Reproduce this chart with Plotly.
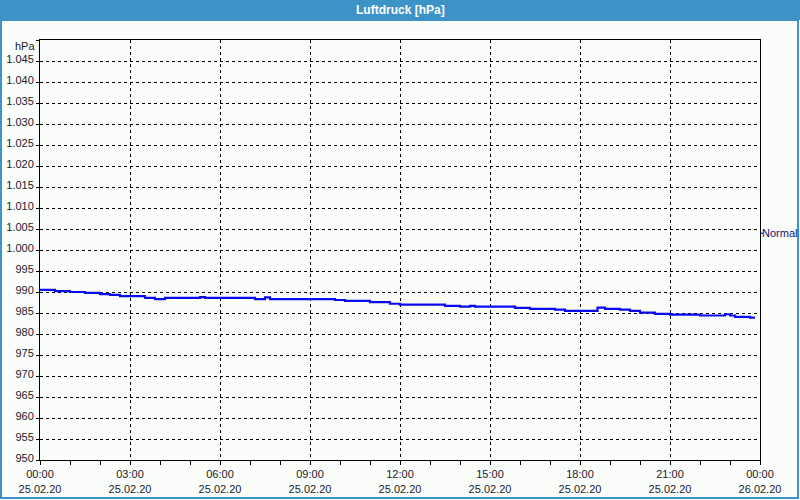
import plotly.graph_objects as go

# ---- data ----
times = ["2020-02-25 00:00", "2020-02-25 00:30", "2020-02-25 01:00", "2020-02-25 01:30",
         "2020-02-25 02:00", "2020-02-25 02:20", "2020-02-25 02:40", "2020-02-25 03:30",
         "2020-02-25 03:50", "2020-02-25 04:10", "2020-02-25 05:20", "2020-02-25 05:30",
         "2020-02-25 07:10", "2020-02-25 07:30", "2020-02-25 07:40", "2020-02-25 09:50",
         "2020-02-25 10:10", "2020-02-25 11:00", "2020-02-25 11:40", "2020-02-25 12:00",
         "2020-02-25 13:30", "2020-02-25 14:00", "2020-02-25 14:20", "2020-02-25 14:30",
         "2020-02-25 15:50", "2020-02-25 16:20", "2020-02-25 17:10", "2020-02-25 17:30",
         "2020-02-25 18:35", "2020-02-25 18:50", "2020-02-25 19:20", "2020-02-25 19:40",
         "2020-02-25 20:00", "2020-02-25 20:30", "2020-02-25 21:00", "2020-02-25 22:00",
         "2020-02-25 22:50", "2020-02-25 23:00", "2020-02-25 23:10", "2020-02-25 23:40",
         "2020-02-25 23:50"]
pressure = [990.5, 990.2, 990.0, 989.8,
            989.5, 989.3, 989.0, 988.6,
            988.3, 988.6, 988.8, 988.6,
            988.3, 988.7, 988.3, 988.1,
            987.9, 987.6, 987.2, 987.0,
            986.7, 986.5, 986.7, 986.5,
            986.2, 986.0, 985.8, 985.5,
            986.3, 986.0, 985.8, 985.5,
            985.1, 984.8, 984.6, 984.4,
            984.7, 984.4, 984.1, 983.9,
            983.9]

y_tickvals = list(range(950, 1051, 5))
y_ticktext = [("1.%03d" % (v - 1000)) if v >= 1000 else str(v) for v in y_tickvals]
y_ticktext[-1] = ""
y_unit = "hPa"

x_tickvals = ["2020-02-25 00:00", "2020-02-25 03:00", "2020-02-25 06:00", "2020-02-25 09:00",
              "2020-02-25 12:00", "2020-02-25 15:00", "2020-02-25 18:00", "2020-02-25 21:00",
              "2020-02-26 00:00"]
x_ticktext = ["00:00<br>25.02.20", "03:00<br>25.02.20", "06:00<br>25.02.20", "09:00<br>25.02.20",
              "12:00<br>25.02.20", "15:00<br>25.02.20", "18:00<br>25.02.20", "21:00<br>25.02.20",
              "00:00<br>26.02.20"]

title_text = "Luftdruck [hPa]"
normal_label = "Normal"
normal_value = 1004

W, H = 800, 500
L, R, T, B = 40, 40, 40, 40
PW, PH = W - L - R, H - T - B


def px_x(px):
    return (px - L) / PW


def px_y(py):
    return (H - B - py) / PH


FONT = "Liberation Sans, Arial, sans-serif"

fig = go.Figure()
fig.add_trace(go.Scatter(x=times, y=pressure, mode="lines",
                         line=dict(color="#0a0af0", width=2.2, shape="hv"),
                         hoverinfo="skip", showlegend=False))

fig.update_layout(
    width=W, height=H,
    margin=dict(l=L, r=R, t=T, b=B, autoexpand=False),
    paper_bgcolor="#fbfdfb",
    plot_bgcolor="#fbfdfb",
    font=dict(family=FONT, size=11, color="#1a1a2a"),
    showlegend=False,
    xaxis=dict(
        type="date", automargin=False,
        range=["2020-02-25 00:00", "2020-02-26 00:00"],
        tickvals=x_tickvals, ticktext=x_ticktext,
        showgrid=True, gridcolor="#000000", griddash="3px,3px", gridwidth=1,
        showline=True, linecolor="#000000", linewidth=1, mirror=True,
        ticks="outside", ticklen=4, tickcolor="#000000",
        minor=dict(dtick=3600000, ticks="outside", ticklen=4, tickcolor="#000000", showgrid=False),
        zeroline=False, fixedrange=True,
    ),
    yaxis=dict(
        automargin=False,
        range=[950, 1050],
        tickvals=y_tickvals, ticktext=y_ticktext,
        showgrid=True, gridcolor="#000000", griddash="3px,3px", gridwidth=1,
        showline=True, linecolor="#000000", linewidth=1, mirror=True,
        ticks="outside", ticklen=3, tickcolor="#000000",
        ticklabelshift=-2,
        zeroline=False, fixedrange=True,
    ),
    shapes=[
        dict(type="rect", xref="paper", yref="paper",
             x0=px_x(0), x1=px_x(W), y0=px_y(0), y1=px_y(20),
             fillcolor="#3d92c8", line=dict(width=0), layer="above"),
        dict(type="rect", xref="paper", yref="paper",
             x0=px_x(1), x1=px_x(798), y0=px_y(20), y1=px_y(498),
             fillcolor="rgba(0,0,0,0)", line=dict(color="#3d92c8", width=2), layer="above"),
        dict(type="line", xref="paper", yref="y",
             x0=1, x1=px_x(763), y0=normal_value, y1=normal_value,
             line=dict(color="#000080", width=1)),
    ],
    annotations=[
        dict(text="<b>" + title_text + "</b>", xref="paper", yref="paper",
             x=0.5, y=px_y(10), showarrow=False, xanchor="center", yanchor="middle",
             font=dict(color="#ffffff", size=12, family=FONT)),
        dict(text=y_unit, xref="paper", yref="paper",
             x=px_x(37), y=px_y(46), showarrow=False, xanchor="right", yanchor="middle",
             font=dict(size=11, family=FONT)),
        dict(text=normal_label, xref="paper", yref="y",
             x=px_x(762), y=normal_value, showarrow=False, xanchor="left", yanchor="middle",
             xshift=-1, borderpad=0,
             font=dict(color="#101070", size=11, family=FONT)),
    ],
)

fig.write_html("out.html")
